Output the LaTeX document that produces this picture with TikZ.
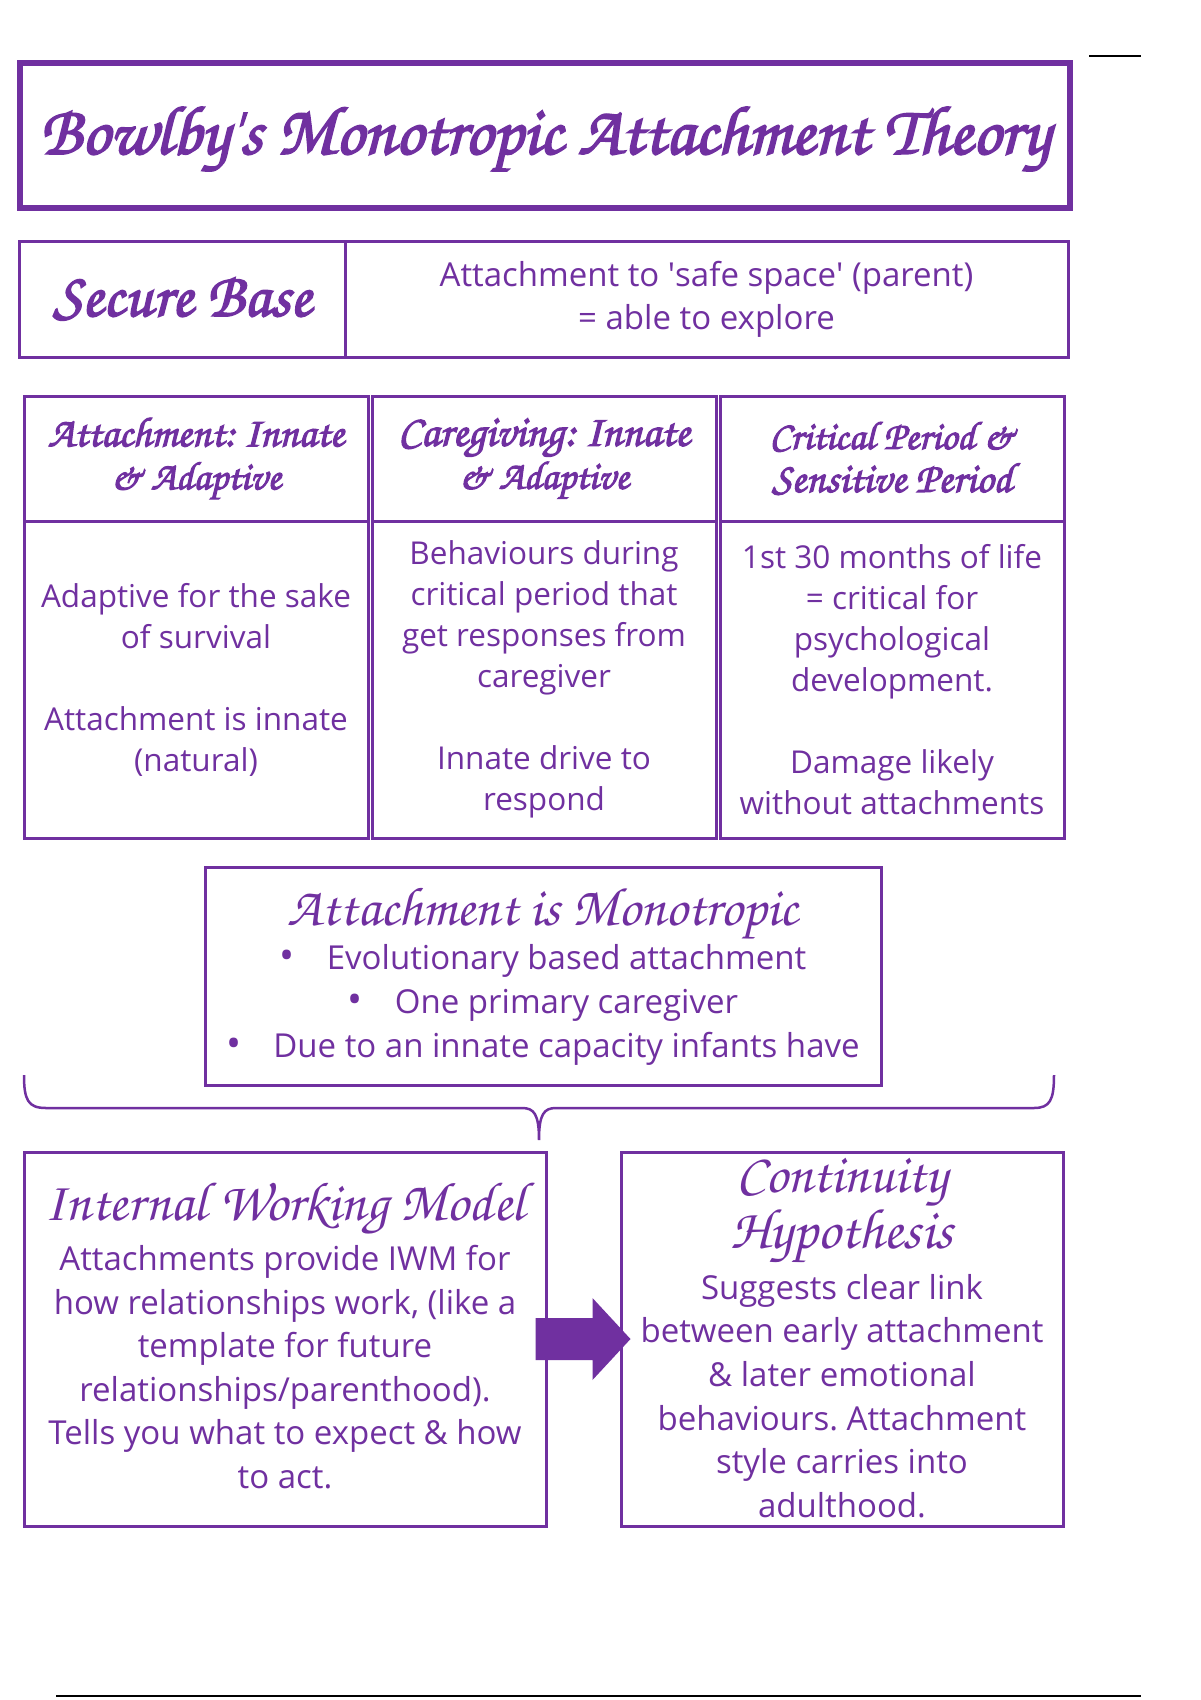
\documentclass[tikz,border=0pt]{standalone}
\usepackage{fontspec}
\usepackage{graphicx}
\setmainfont{Open Sans}
\newfontfamily\scr{texgyrechorus-mediumitalic.otf}
\newfontfamily\scrb{texgyrechorus-mediumitalic.otf}[FakeBold=2.5]
\usetikzlibrary{calc}
\definecolor{pur}{HTML}{7030A0}
\newcommand{\sbul}{{\fontsize{40}{40}\selectfont\textbullet}\hspace{32pt}}
\tikzset{
  box/.style={draw=pur, line width=3pt, inner sep=0pt, text=pur, align=center},
  hdr/.style={box, font=\fontsize{30}{43}\selectfont},
  body/.style={text=pur, align=center, font=\fontsize{31.5}{41}\selectfont},
  bodyb/.style={text=pur, align=center, font=\fontsize{33}{43.6}\selectfont},
}
\begin{document}
\frenchspacing
\begin{tikzpicture}[x=1pt,y=-1pt]
\useasboundingbox[fill=white] (0,0) rectangle (1200,1700);
% decorative lines
\coordinate (tl1) at (1089,56); \coordinate (tl2) at (1141,56);
\draw[black, line width=2pt] (tl1) -- (tl2);
\coordinate (bl1) at (56,1696); \coordinate (bl2) at (1141,1696);
\draw[black, line width=2pt] (bl1) -- (bl2);
% title
\node[box, line width=6pt, minimum width=1050, minimum height=145] (title) at (545,135.5) {};
\node[text=pur] (titletext) at (545,139) {\resizebox{1010pt}{!}{\scrb Bowlby's Monotropic Attachment Theory}};
% secure base
\node[box, minimum width=325.5, minimum height=116] (sb) at (182.25,299) {\resizebox{258pt}{!}{\scrb Secure Base}};
\node[box, minimum width=723, minimum height=116, font=\fontsize{33}{43}\selectfont] (sbd) at (706.5,299) {Attachment to \textquotesingle safe space\textquotesingle{} (parent)\\= able to explore};
% table headers
\node[hdr, minimum width=344, minimum height=125] (h1) at (196,458.5) {\resizebox{296pt}{!}{\scrb Attachment: Innate}\\\resizebox{170pt}{!}{\scrb \& Adaptive}};
\node[hdr, minimum width=344, minimum height=125] (h2) at (544,458.5) {\resizebox{292pt}{!}{\scrb Caregiving: Innate}\\\resizebox{170pt}{!}{\scrb \& Adaptive}};
\node[hdr, minimum width=344, minimum height=125] (h3) at (892,458.5) {\resizebox{245pt}{!}{\scrb Critical Period \&}\\\resizebox{240pt}{!}{\scrb Sensitive Period}};
% table bodies
\node[box, minimum width=344, minimum height=317] (b1) at (196,679.5) {};
\node[body] (b1t) at (b1) {Adaptive for the sake\\of survival\\[41pt]Attachment is innate\\(natural)};
\node[box, minimum width=344, minimum height=317] (b2) at (544,679.5) {};
\node[body] (b2t) at (b2) {Behaviours during\\critical period that\\get responses from\\caregiver\\[41pt]Innate drive to\\respond};
\node[box, minimum width=344, minimum height=317] (b3) at (892,679.5) {};
\node[body] (b3t) at (b3) {1st 30 months of life\\= critical for\\psychological\\development.\\[41pt]Damage likely\\without attachments};
% monotropic
\node[box, minimum width=676, minimum height=218] (mono) at (543,976) {};
\node[text=pur] (monot) at (543,914) {\resizebox{510pt}{!}{\scr Attachment is Monotropic}};
\node[body, font=\fontsize{33}{44}\selectfont] (monob) at (543,1005) {\sbul Evolutionary based attachment\\\sbul One primary caregiver\\\sbul Due to an innate capacity infants have};
% brace
\coordinate (brl) at (24,1075);
\coordinate (brm) at (539,1140);
\coordinate (brr) at (1054,1075);
\draw[pur, line width=2.5pt] (brl) .. controls (24,1100) and (28,1108) .. (46,1108) -- (522,1108) .. controls (534,1108) and (539,1114) .. (brm) .. controls (539,1114) and (544,1108) .. (556,1108) -- (1034,1108) .. controls (1050,1108) and (1054,1100) .. (brr);
% bottom boxes
\node[box, minimum width=522, minimum height=374] (iwm) at (285,1339) {};
\node[text=pur] (iwmt) at (285,1209) {\resizebox{480pt}{!}{\scr Internal Working Model}};
\node[bodyb] (iwmb) at (285,1367) {Attachments provide IWM for\\how relationships work, (like a\\template for future\\relationships/parenthood).\\Tells you what to expect \& how\\to act.};
\node[box, minimum width=442, minimum height=374] (cont) at (842,1339) {};
\node[text=pur, align=center, font=\fontsize{30}{56}\selectfont] (contt) at (842,1210) {\resizebox{211pt}{!}{\scr Continuity}\\\resizebox{222pt}{!}{\scr Hypothesis}};
\node[bodyb] (contb) at (842,1396) {Suggests clear link\\between early attachment\\\& later emotional\\behaviours. Attachment\\style carries into\\adulthood.};
% arrow
\fill[pur] ($(iwm.east)+(-12,-21)$) -- ($(iwm.east)+(45,-21)$) -- ($(iwm.east)+(45,-41)$) -- ($(cont.west)+(11,0)$) -- ($(iwm.east)+(45,41)$) -- ($(iwm.east)+(45,21)$) -- ($(iwm.east)+(-12,21)$) -- cycle;
\end{tikzpicture}
\end{document}
